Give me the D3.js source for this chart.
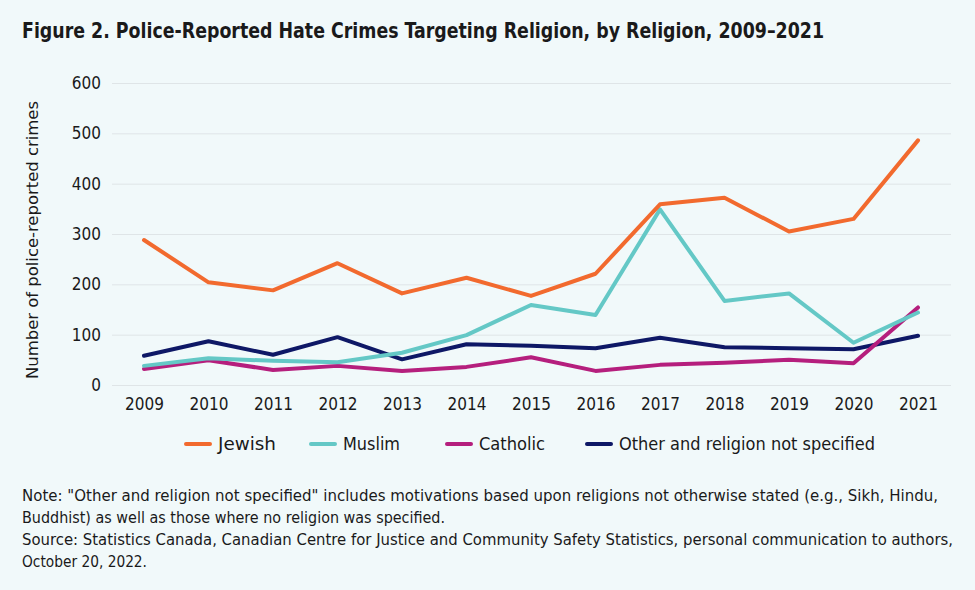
<!DOCTYPE html>
<html>
<head>
<meta charset="utf-8">
<script src="https://cdn.jsdelivr.net/npm/d3@7"></script>
<style>
  body { margin: 0; background: #f1f9fa; }
  svg { display: block; }
  text { font-family: "Liberation Sans Narrow", "DejaVu Sans Condensed", "Roboto", sans-serif; fill: #1a1a1a; }
</style>
</head>
<body>
<svg id="chart" width="975" height="590"></svg>
<script>
'use strict';

const years = [2009, 2010, 2011, 2012, 2013, 2014, 2015, 2016, 2017, 2018, 2019, 2020, 2021];
const jewish = [288, 204, 188, 242, 182, 213, 177, 221, 359, 372, 305, 330, 486];
const muslim = [38, 53, 48, 45, 64, 99, 159, 139, 349, 167, 182, 84, 144];
const catholic = [32, 49, 30, 38, 28, 36, 55, 28, 40, 44, 50, 43, 154];
const other = [58, 87, 60, 95, 51, 81, 78, 73, 94, 75, 73, 71, 98];
const yTicks = [0, 100, 200, 300, 400, 500, 600];

const seriesNames = ["Jewish", "Muslim", "Catholic", "Other and religion not specified"];
const seriesColors = ["#f26a2e", "#64c8c6", "#b51f7d", "#0e1866"];

const titleText = "Figure 2. Police-Reported Hate Crimes Targeting Religion, by Religion, 2009\u20132021";
const yAxisLabel = "Number of police-reported crimes";
const noteLines = [
    "Note: \"Other and religion not specified\" includes motivations based upon religions not otherwise stated (e.g., Sikh, Hindu,",
    "Buddhist) as well as those where no religion was specified.",
    "Source: Statistics Canada, Canadian Centre for Justice and Community Safety Statistics, personal communication to authors,",
    "October 20, 2022."
];

const MARGIN = { top: 83, left: 112, bottom: 385, right: 951 };

const svg = d3.select("#chart");

svg.append("rect")
    .attr("width", 975)
    .attr("height", 590)
    .attr("fill", "#f1f9fa");

// squeeze text into the width it takes in the reference
function fitWidth(sel, width) {
    const w = sel.node().getComputedTextLength();
    if (Math.abs(w - width) > 1)
        sel.attr("textLength", width).attr("lengthAdjust", "spacingAndGlyphs");
    return sel;
}

// title
svg.append("text")
    .attr("x", 22)
    .attr("y", 38)
    .attr("font-size", 22)
    .attr("font-weight", "bold")
    .attr("fill", "#111")
    .text(titleText)
    .call(fitWidth, 802);

const x = d3.scalePoint()
    .domain(years)
    .range([144, 918]);

const y = d3.scaleLinear()
    .domain([0, 600])
    .range([MARGIN.bottom, MARGIN.top]);

// grid
const yAxis = svg.append("g")
    .attr("transform", `translate(${MARGIN.left},0)`)
    .call(d3.axisLeft(y)
        .tickValues(yTicks)
        .tickSize(-(MARGIN.right - MARGIN.left))
        .tickPadding(11)
        .tickFormat(d3.format("d")));

yAxis.select(".domain").remove();
yAxis.selectAll(".tick line")
    .attr("stroke", "#dfe5e7")
    .attr("stroke-width", 1);
yAxis.selectAll(".tick text")
    .attr("font-size", 17)
    .attr("fill", "#222");

const xAxis = svg.append("g")
    .attr("transform", `translate(0,${MARGIN.bottom})`)
    .call(d3.axisBottom(x).tickSize(0).tickPadding(13));

xAxis.select(".domain").remove();
xAxis.selectAll(".tick text")
    .attr("font-size", 17)
    .attr("fill", "#222");

// y axis title
svg.append("text")
    .attr("transform", "translate(38,240) rotate(-90)")
    .attr("text-anchor", "middle")
    .attr("font-size", 16)
    .attr("fill", "#222")
    .text(yAxisLabel)
    .call(fitWidth, 278);

// lines
const allSeries = [jewish, muslim, catholic, other];
const line = d3.line()
    .x((d, i) => x(years[i]))
    .y((d) => y(d));

// draw in reverse so Jewish ends on top, like the reference
[3, 2, 1, 0].forEach((k) => {
    svg.append("path")
        .datum(allSeries[k])
        .attr("fill", "none")
        .attr("stroke", seriesColors[k])
        .attr("stroke-width", 4)
        .attr("stroke-linejoin", "round")
        .attr("stroke-linecap", "round")
        .attr("d", line);
});

// legend
const legendX = [186, 311, 447, 587];
const legendTextW = [58, 57, 66, 256];
const legend = svg.append("g").attr("transform", "translate(0,444)");
seriesNames.forEach((name, i) => {
    legend.append("line")
        .attr("x1", legendX[i])
        .attr("x2", legendX[i] + 24)
        .attr("stroke", seriesColors[i])
        .attr("stroke-width", 4)
        .attr("stroke-linecap", "round");
    legend.append("text")
        .attr("x", legendX[i] + 32)
        .attr("y", 6)
        .attr("font-size", 17)
        .attr("fill", "#222")
        .text(name)
        .call(fitWidth, legendTextW[i]);
});

// notes
const noteW = [916, 423, 931, 125];
noteLines.forEach((t, i) => {
    svg.append("text")
        .attr("x", 22)
        .attr("y", 500.5 + i * 22.2)
        .attr("font-size", 15)
        .attr("fill", "#222")
        .text(t)
        .call(fitWidth, noteW[i]);
});
</script>
</body>
</html>
